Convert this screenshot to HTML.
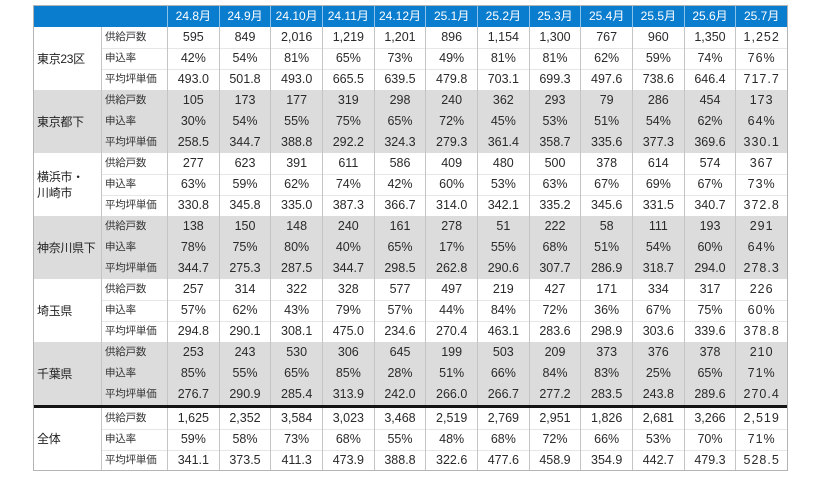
<!DOCTYPE html>
<html>
<head>
<meta charset="utf-8">
<style>
html,body{margin:0;padding:0;background:#fff;width:830px;height:478px;overflow:hidden;}
body{font-family:"Liberation Sans","Noto Sans CJK JP",sans-serif;}
#t{position:absolute;left:33px;top:5px;width:753px;border:1px solid #b4b4b4;background:#fff;}
.hdr{display:grid;grid-template-columns:133px repeat(12,1fr);height:21px;background:#0b7dcf;}
.hdr>div{border-left:1px solid #8cc2ea;color:#fff;font-size:12px;text-align:center;line-height:21px;white-space:nowrap;}
.hdr>div:first-child{border-left:none;}
.grp{display:grid;grid-template-columns:67px 66px repeat(12,1fr);grid-template-rows:21px 21px 21px;}
.w{background:linear-gradient(#e6e6e6,#e6e6e6) 67px 21px/calc(100% - 67px) 1px no-repeat,linear-gradient(#e6e6e6,#e6e6e6) 67px 42px/calc(100% - 67px) 1px no-repeat,#fff;}
.g{background:#dcdcdc;}
.last{grid-template-rows:21px 21px 20px;}
.grp>div{border-left:1px solid #c4c4c4;text-align:center;line-height:21px;font-size:12.5px;color:#2a2a2a;white-space:nowrap;overflow:hidden;}
.grp>div:nth-child(13n+14){letter-spacing:1px;}
.grp>.lab{grid-row:1/span 3;grid-column:1;border-left:none;text-align:left;padding-left:3px;font-size:12px;letter-spacing:-0.3px;display:flex;align-items:center;line-height:16px;white-space:normal;color:#222;}
.grp>.sub{text-align:left;padding-left:3px;font-size:10.5px;color:#333;letter-spacing:-0.2px;}
.thick{height:3px;background:#151515;}
</style>
</head>
<body>
<div id="t">
<div class="hdr"><div></div><div>24.8月</div><div>24.9月</div><div>24.10月</div><div>24.11月</div><div>24.12月</div><div>25.1月</div><div>25.2月</div><div>25.3月</div><div>25.4月</div><div>25.5月</div><div>25.6月</div><div>25.7月</div></div>

<div class="grp w"><div class="lab">東京23区</div>
<div class="sub">供給戸数</div><div>595</div><div>849</div><div>2,016</div><div>1,219</div><div>1,201</div><div>896</div><div>1,154</div><div>1,300</div><div>767</div><div>960</div><div>1,350</div><div>1,252</div>
<div class="sub">申込率</div><div>42%</div><div>54%</div><div>81%</div><div>65%</div><div>73%</div><div>49%</div><div>81%</div><div>81%</div><div>62%</div><div>59%</div><div>74%</div><div>76%</div>
<div class="sub">平均坪単価</div><div>493.0</div><div>501.8</div><div>493.0</div><div>665.5</div><div>639.5</div><div>479.8</div><div>703.1</div><div>699.3</div><div>497.6</div><div>738.6</div><div>646.4</div><div>717.7</div>
</div>

<div class="grp g"><div class="lab">東京都下</div>
<div class="sub">供給戸数</div><div>105</div><div>173</div><div>177</div><div>319</div><div>298</div><div>240</div><div>362</div><div>293</div><div>79</div><div>286</div><div>454</div><div>173</div>
<div class="sub">申込率</div><div>30%</div><div>54%</div><div>55%</div><div>75%</div><div>65%</div><div>72%</div><div>45%</div><div>53%</div><div>51%</div><div>54%</div><div>62%</div><div>64%</div>
<div class="sub">平均坪単価</div><div>258.5</div><div>344.7</div><div>388.8</div><div>292.2</div><div>324.3</div><div>279.3</div><div>361.4</div><div>358.7</div><div>335.6</div><div>377.3</div><div>369.6</div><div>330.1</div>
</div>

<div class="grp w"><div class="lab">横浜市・<br>川崎市</div>
<div class="sub">供給戸数</div><div>277</div><div>623</div><div>391</div><div>611</div><div>586</div><div>409</div><div>480</div><div>500</div><div>378</div><div>614</div><div>574</div><div>367</div>
<div class="sub">申込率</div><div>63%</div><div>59%</div><div>62%</div><div>74%</div><div>42%</div><div>60%</div><div>53%</div><div>63%</div><div>67%</div><div>69%</div><div>67%</div><div>73%</div>
<div class="sub">平均坪単価</div><div>330.8</div><div>345.8</div><div>335.0</div><div>387.3</div><div>366.7</div><div>314.0</div><div>342.1</div><div>335.2</div><div>345.6</div><div>331.5</div><div>340.7</div><div>372.8</div>
</div>

<div class="grp g"><div class="lab">神奈川県下</div>
<div class="sub">供給戸数</div><div>138</div><div>150</div><div>148</div><div>240</div><div>161</div><div>278</div><div>51</div><div>222</div><div>58</div><div>111</div><div>193</div><div>291</div>
<div class="sub">申込率</div><div>78%</div><div>75%</div><div>80%</div><div>40%</div><div>65%</div><div>17%</div><div>55%</div><div>68%</div><div>51%</div><div>54%</div><div>60%</div><div>64%</div>
<div class="sub">平均坪単価</div><div>344.7</div><div>275.3</div><div>287.5</div><div>344.7</div><div>298.5</div><div>262.8</div><div>290.6</div><div>307.7</div><div>286.9</div><div>318.7</div><div>294.0</div><div>278.3</div>
</div>

<div class="grp w"><div class="lab">埼玉県</div>
<div class="sub">供給戸数</div><div>257</div><div>314</div><div>322</div><div>328</div><div>577</div><div>497</div><div>219</div><div>427</div><div>171</div><div>334</div><div>317</div><div>226</div>
<div class="sub">申込率</div><div>57%</div><div>62%</div><div>43%</div><div>79%</div><div>57%</div><div>44%</div><div>84%</div><div>72%</div><div>36%</div><div>67%</div><div>75%</div><div>60%</div>
<div class="sub">平均坪単価</div><div>294.8</div><div>290.1</div><div>308.1</div><div>475.0</div><div>234.6</div><div>270.4</div><div>463.1</div><div>283.6</div><div>298.9</div><div>303.6</div><div>339.6</div><div>378.8</div>
</div>

<div class="grp g"><div class="lab">千葉県</div>
<div class="sub">供給戸数</div><div>253</div><div>243</div><div>530</div><div>306</div><div>645</div><div>199</div><div>503</div><div>209</div><div>373</div><div>376</div><div>378</div><div>210</div>
<div class="sub">申込率</div><div>85%</div><div>55%</div><div>65%</div><div>85%</div><div>28%</div><div>51%</div><div>66%</div><div>84%</div><div>83%</div><div>25%</div><div>65%</div><div>71%</div>
<div class="sub">平均坪単価</div><div>276.7</div><div>290.9</div><div>285.4</div><div>313.9</div><div>242.0</div><div>266.0</div><div>266.7</div><div>277.2</div><div>283.5</div><div>243.8</div><div>289.6</div><div>270.4</div>
</div>

<div class="thick"></div>

<div class="grp w last"><div class="lab">全体</div>
<div class="sub">供給戸数</div><div>1,625</div><div>2,352</div><div>3,584</div><div>3,023</div><div>3,468</div><div>2,519</div><div>2,769</div><div>2,951</div><div>1,826</div><div>2,681</div><div>3,266</div><div>2,519</div>
<div class="sub">申込率</div><div>59%</div><div>58%</div><div>73%</div><div>68%</div><div>55%</div><div>48%</div><div>68%</div><div>72%</div><div>66%</div><div>53%</div><div>70%</div><div>71%</div>
<div class="sub">平均坪単価</div><div>341.1</div><div>373.5</div><div>411.3</div><div>473.9</div><div>388.8</div><div>322.6</div><div>477.6</div><div>458.9</div><div>354.9</div><div>442.7</div><div>479.3</div><div>528.5</div>
</div>
</div>
</body>
</html>
